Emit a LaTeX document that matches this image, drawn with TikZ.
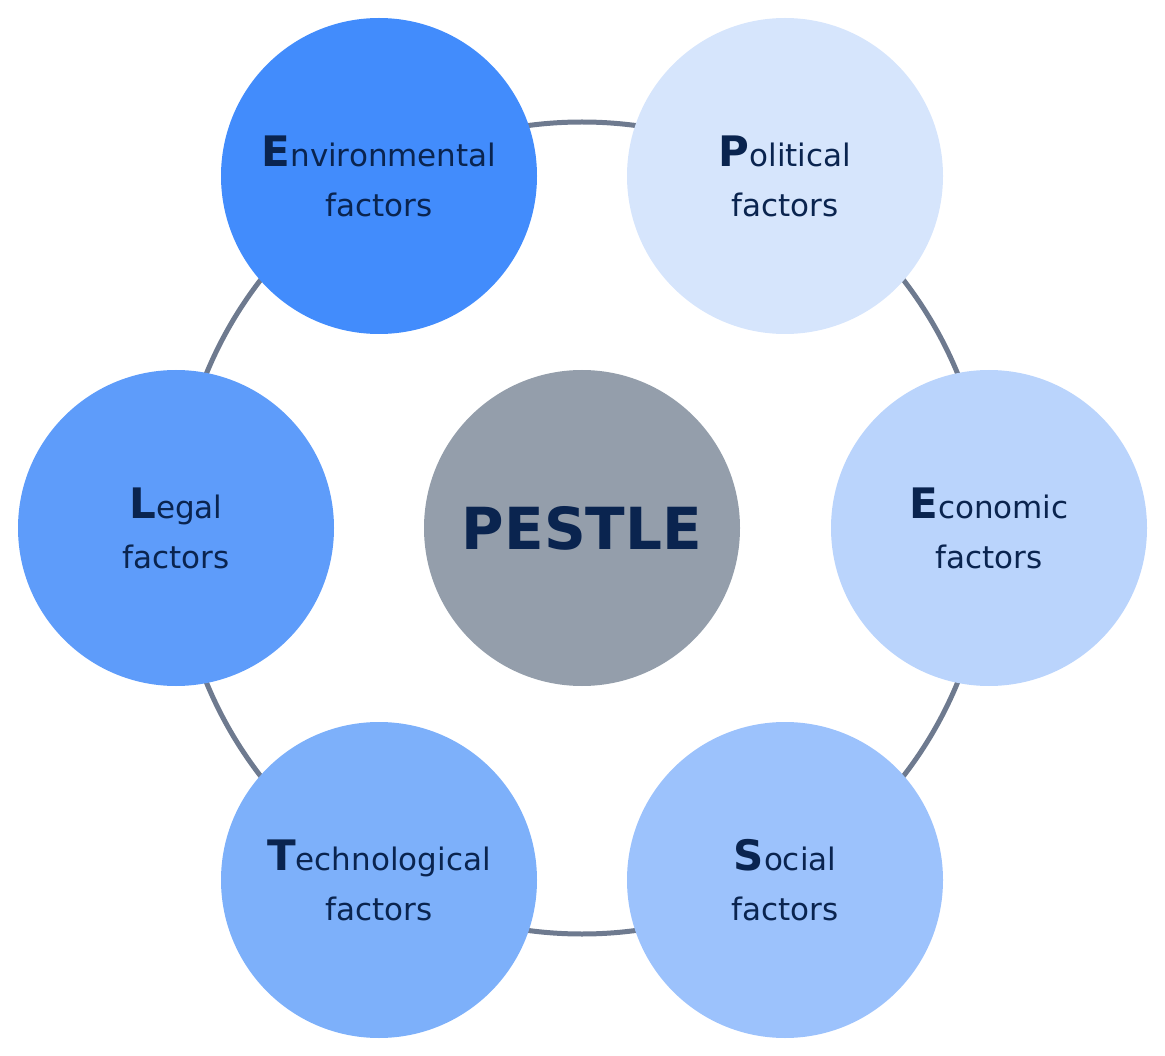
\documentclass[tikz,border=0pt]{standalone}
\usepackage{fontspec}
\setmainfont{DejaVu Sans}
\definecolor{inkcolor}{rgb}{0.04,0.14,0.31}
\definecolor{ringcolor}{rgb}{0.43,0.48,0.56}
\definecolor{envcolor}{rgb}{0.26,0.55,0.99}
\definecolor{polcolor}{rgb}{0.84,0.90,0.99}
\definecolor{ecocolor}{rgb}{0.73,0.83,0.99}
\definecolor{soccolor}{rgb}{0.61,0.76,0.99}
\definecolor{teccolor}{rgb}{0.49,0.69,0.98}
\definecolor{legcolor}{rgb}{0.37,0.61,0.98}
\definecolor{hubcolor}{rgb}{0.58,0.62,0.67}
\tikzset{
  factor/.style={circle,minimum size=316pt,inner sep=0pt,text=inkcolor,
    align=center,font=\fontsize{31}{50}\selectfont},
  hub/.style={factor,fill=hubcolor,font=\fontsize{58}{60}\selectfont\bfseries},
}
\newcommand{\initial}[1]{{\fontsize{42}{50}\selectfont\bfseries #1}}
\begin{document}
\begin{tikzpicture}[x=1pt,y=-1pt]
\useasboundingbox (0,0) rectangle (1165,1056);
% ring behind the circles
\draw[ringcolor,line width=5pt] (582,528) circle (406pt);
\node[hub] (pestle) at (582,528) {PESTLE};
\node[factor,fill=envcolor] (env) at (379,176) {\initial{E}nvironmental\\factors};
\node[factor,fill=polcolor] (pol) at (785,176) {\initial{P}olitical\\factors};
\node[factor,fill=ecocolor] (eco) at (989,528) {\initial{E}conomic\\factors};
\node[factor,fill=soccolor] (soc) at (785,880) {\initial{S}ocial\\factors};
\node[factor,fill=teccolor] (tec) at (379,880) {\initial{T}echnological\\factors};
\node[factor,fill=legcolor] (leg) at (176,528) {\initial{L}egal\\factors};
\end{tikzpicture}
\end{document}
